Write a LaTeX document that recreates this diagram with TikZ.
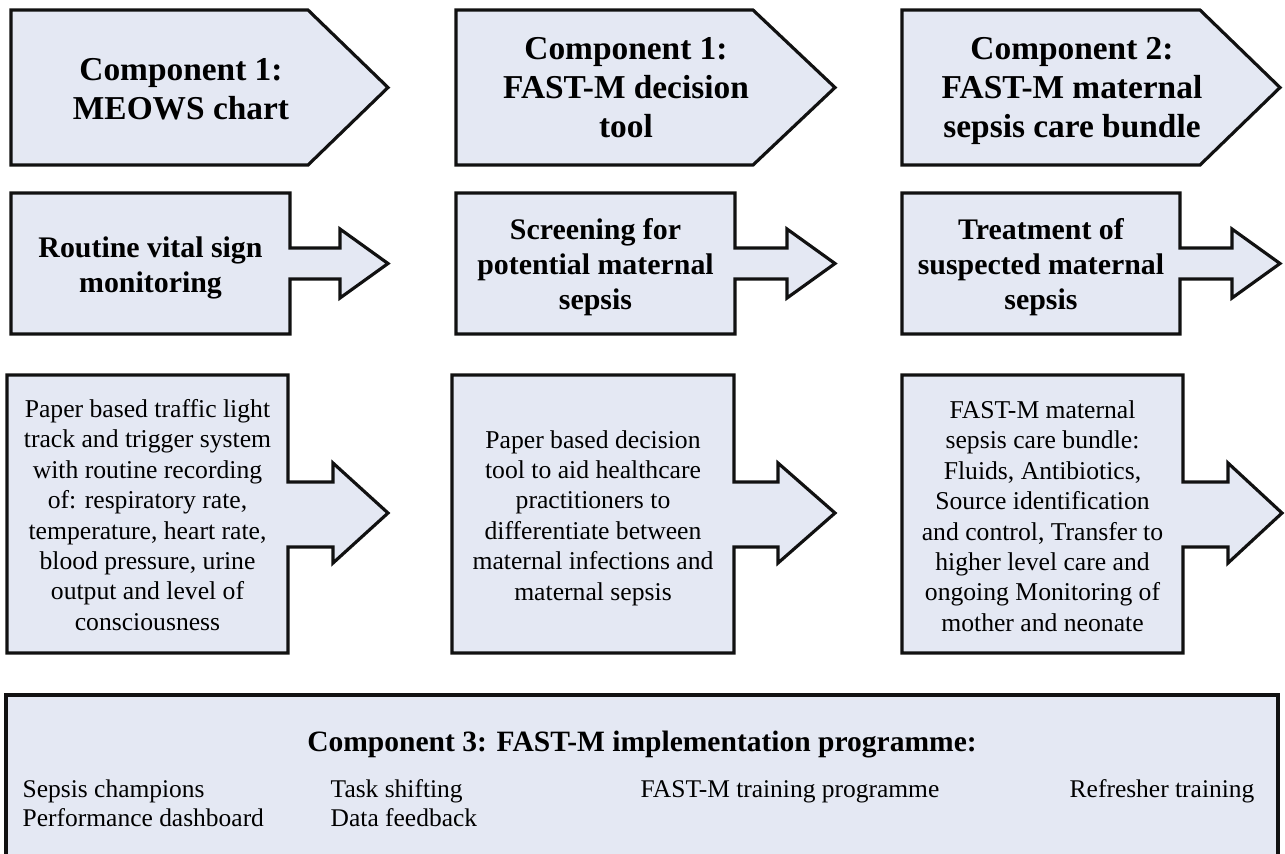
\documentclass[tikz,border=0pt]{standalone}
\usepackage{fontspec}
\setmainfont{Liberation Serif}
\usepackage{xcolor}
\usepackage{tikz}
\definecolor{boxfill}{HTML}{E4E8F3}
\definecolor{edge}{HTML}{111111}
\tikzset{
  blk/.style={draw=edge, fill=boxfill, line width=0.9pt, line join=miter},
  head/.style={font=\fontsize{9.5}{11.1}\selectfont\bfseries, align=center, inner sep=0pt},
  task/.style={font=\fontsize{8.5}{9.9}\selectfont\bfseries, align=center, inner sep=0pt},
  body/.style={font=\fontsize{7.3}{8.65}\selectfont, align=center, inner sep=0pt},
  prog/.style={font=\fontsize{8.4}{9.9}\selectfont\bfseries, inner sep=0pt},
  item/.style={font=\fontsize{7.25}{8.25}\selectfont, inner sep=0pt, anchor=base west},
}

\begin{document}
\begin{tikzpicture}
\useasboundingbox (0,0) rectangle (12.85,-8.53);

% top row: component labels
\draw[blk] (0.11,-0.10) -- (3.08,-0.10) -- (3.88,-0.875) -- (3.08,-1.65) -- (0.11,-1.65) -- cycle;
\draw[blk] (4.56,-0.10) -- (7.53,-0.10) -- (8.35,-0.875) -- (7.53,-1.65) -- (4.56,-1.65) -- cycle;
\draw[blk] (9.02,-0.10) -- (12.00,-0.10) -- (12.80,-0.875) -- (12.00,-1.65) -- (9.02,-1.65) -- cycle;

\node[head] (meows) at (1.81,-0.895) {Component 1:\\MEOWS chart};
\node[head] (tool) at (6.26,-0.88) {Component 1:\\FAST-M decision\\tool};
\node[head] (bundle) at (10.72,-0.91) {Component 2:\\FAST-M maternal\\sepsis care bundle};

% middle row: what each component does
\draw[blk] (0.11,-1.93) -- (2.90,-1.93) -- (2.90,-2.48) -- (3.40,-2.48) -- (3.40,-2.29) -- (3.88,-2.635)
  -- (3.40,-2.98) -- (3.40,-2.79) -- (2.90,-2.79) -- (2.90,-3.34) -- (0.11,-3.34) -- cycle;
\draw[blk] (4.56,-1.93) -- (7.35,-1.93) -- (7.35,-2.48) -- (7.87,-2.48) -- (7.87,-2.29) -- (8.35,-2.635)
  -- (7.87,-2.98) -- (7.87,-2.79) -- (7.35,-2.79) -- (7.35,-3.34) -- (4.56,-3.34) -- cycle;
\draw[blk] (9.02,-1.93) -- (11.80,-1.93) -- (11.80,-2.48) -- (12.32,-2.48) -- (12.32,-2.29) -- (12.80,-2.635)
  -- (12.32,-2.98) -- (12.32,-2.79) -- (11.80,-2.79) -- (11.80,-3.34) -- (9.02,-3.34) -- cycle;

\node[task] (monitor) at (1.505,-2.68) {Routine vital sign\\monitoring};
\node[task] (screen) at (5.955,-2.67) {Screening for\\potential maternal\\sepsis};
\node[task] (treat) at (10.41,-2.67) {Treatment of\\suspected maternal\\sepsis};

% lower row: descriptions
\draw[blk] (0.07,-3.75) -- (2.88,-3.75) -- (2.88,-4.82) -- (3.33,-4.82) -- (3.33,-4.63) -- (3.88,-5.13)
  -- (3.33,-5.63) -- (3.33,-5.47) -- (2.88,-5.47) -- (2.88,-6.53) -- (0.07,-6.53) -- cycle;
\draw[blk] (4.52,-3.75) -- (7.34,-3.75) -- (7.34,-4.82) -- (7.78,-4.82) -- (7.78,-4.63) -- (8.35,-5.13)
  -- (7.78,-5.63) -- (7.78,-5.47) -- (7.34,-5.47) -- (7.34,-6.53) -- (4.52,-6.53) -- cycle;
\draw[blk] (9.02,-3.75) -- (11.83,-3.75) -- (11.83,-4.82) -- (12.28,-4.82) -- (12.28,-4.63) -- (12.82,-5.13)
  -- (12.28,-5.63) -- (12.28,-5.47) -- (11.83,-5.47) -- (11.83,-6.53) -- (9.02,-6.53) -- cycle;

\node[body] (track) at (1.475,-5.15) {Paper based traffic light\\track and trigger system\\with routine recording\\of: respiratory rate,\\temperature, heart rate,\\blood pressure, urine\\output and level of\\consciousness};
\node[body] (decide) at (5.93,-5.18) {Paper based decision\\tool to aid healthcare\\practitioners to\\differentiate between\\maternal infections and\\maternal sepsis};
\node[body] (care) at (10.425,-5.16) {FAST-M maternal\\sepsis care bundle:\\Fluids, Antibiotics,\\Source identification\\and control, Transfer to\\higher level care and\\ongoing Monitoring of\\mother and neonate};

% implementation programme
\draw[blk] (0.06,-6.95) rectangle (12.78,-8.58);
\node[prog, anchor=base] (impl) at (6.42,-7.51) {Component 3: FAST-M implementation programme:};
\node[item] (champ) at (0.22,-7.97) {Sepsis champions};
\node[item] (dash) at (0.22,-8.26) {Performance dashboard};
\node[item] (shift) at (3.30,-7.97) {Task shifting};
\node[item] (feed) at (3.30,-8.26) {Data feedback};
\node[item] (train) at (6.40,-7.97) {FAST-M training programme};
\node[item] (fresh) at (10.69,-7.97) {Refresher training};
\end{tikzpicture}
\end{document}
